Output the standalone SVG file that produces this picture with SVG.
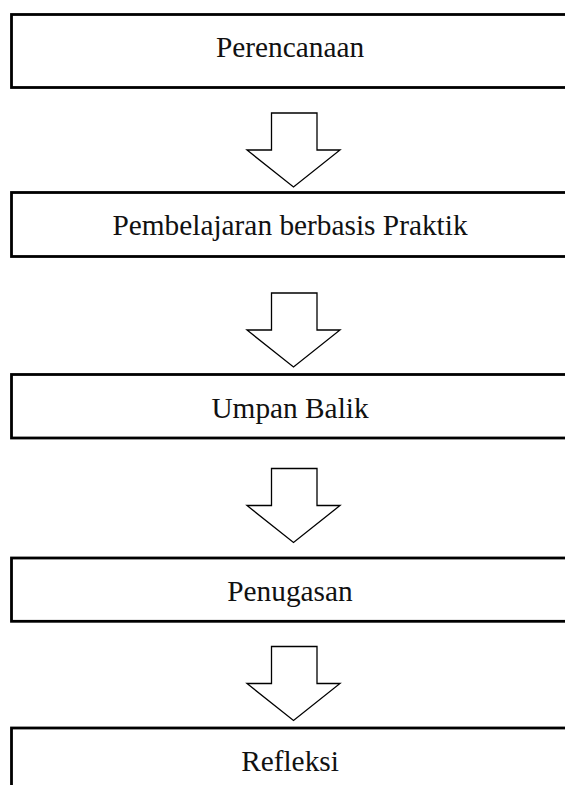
<svg xmlns="http://www.w3.org/2000/svg" width="565" height="785" viewBox="0 0 565 785">
<defs>
<style>
.box{fill:#fff;stroke:#000;stroke-width:2.8}
.lbl{font-family:"Liberation Serif","Times New Roman",serif;font-size:29.33px;fill:#111;text-anchor:middle}
.arr{fill:#fff;stroke:#000;stroke-width:1.3;stroke-linejoin:miter}
</style>
<polygon id="arrowShape" class="arr" points="271.5,0 317,0 317,37 340,37 293.5,74 247,37 271.5,37"/>
</defs>
<rect width="565" height="785" fill="#fff"/>
<g id="connectors">
<use href="#arrowShape" transform="translate(0,113)"/>
<use href="#arrowShape" transform="translate(0,293)"/>
<use href="#arrowShape" transform="translate(0,468.5)"/>
<use href="#arrowShape" transform="translate(0,646.5)"/>
</g>
<g id="node-perencanaan">
<rect class="box" x="11.5" y="14.5" width="600" height="73"/>
<text class="lbl" x="290" y="57">Perencanaan</text>
</g>
<g id="node-pembelajaran">
<rect class="box" x="11.5" y="192.5" width="600" height="64"/>
<text class="lbl" x="290" y="235">Pembelajaran berbasis Praktik</text>
</g>
<g id="node-umpan-balik">
<rect class="box" x="11.5" y="374.5" width="600" height="63.5"/>
<text class="lbl" x="290" y="417.5">Umpan Balik</text>
</g>
<g id="node-penugasan">
<rect class="box" x="11.5" y="558" width="600" height="63.3"/>
<text class="lbl" x="290" y="600.5">Penugasan</text>
</g>
<g id="node-refleksi">
<rect class="box" x="11.5" y="728" width="600" height="100"/>
<text class="lbl" x="290" y="770.5">Refleksi</text>
</g>
</svg>
